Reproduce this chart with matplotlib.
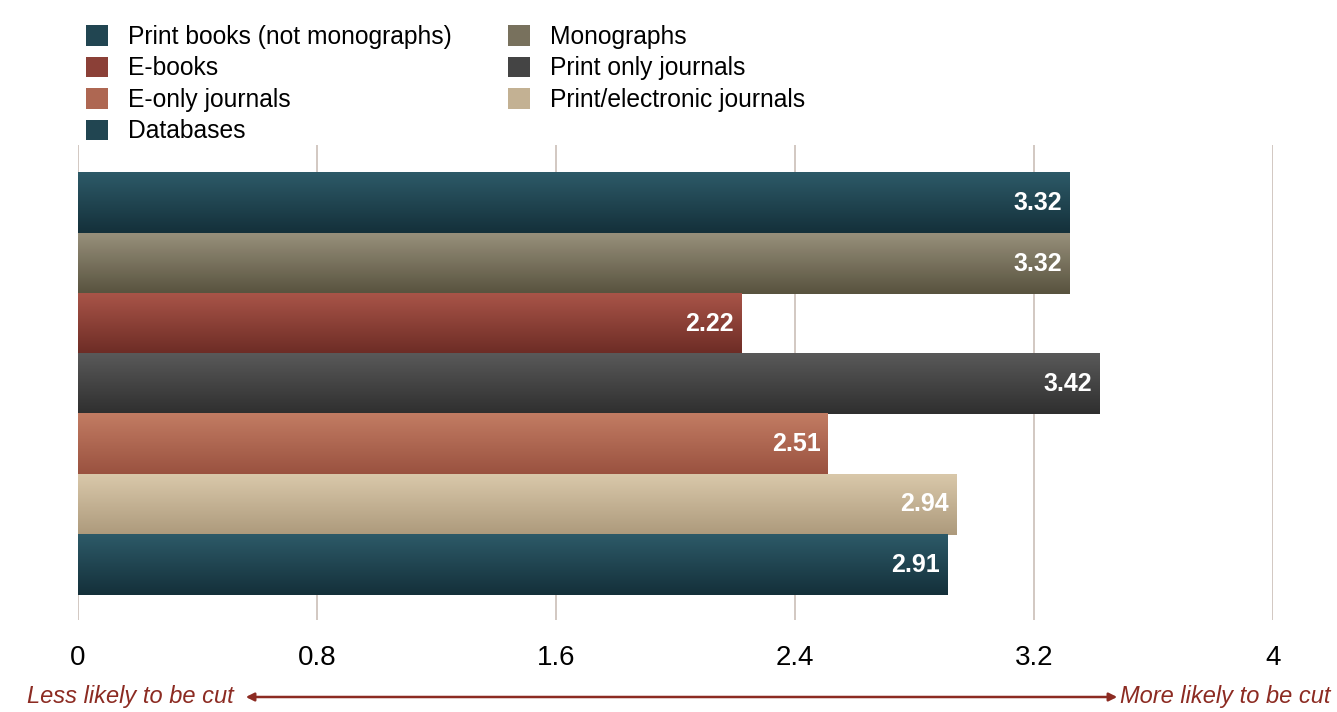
import numpy as np
import matplotlib.pyplot as plt
from matplotlib.colors import LinearSegmentedColormap, to_rgb
from matplotlib.patches import Patch, FancyArrowPatch

plt.rcParams['font.family'] = ['Liberation Sans', 'DejaVu Sans']

# bars top to bottom
categories = ["Print books (not monographs)", "Monographs", "E-books",
              "Print only journals", "E-only journals",
              "Print/electronic journals", "Databases"]
values = [3.32, 3.32, 2.22, 3.42, 2.51, 2.94, 2.91]
# (top colour, bottom colour) of the vertical gradient
colors = [("#2d5a68", "#14303a"), ("#978f7a", "#58533f"), ("#a95448", "#6c2c25"),
          ("#595959", "#2f2f2f"), ("#c27c63", "#9a5240"), ("#d9c8aa", "#ad9a7c"),
          ("#2d5a68", "#14303a")]
legend_order = ["Print books (not monographs)", "E-books", "E-only journals", "Databases",
                "Monographs", "Print only journals", "Print/electronic journals"]
xticks = [0, 0.8, 1.6, 2.4, 3.2, 4]

fig = plt.figure(figsize=(13.37, 7.12), dpi=100)
ax = fig.add_axes([78 / 1337, 1 - 620 / 712, (1273 - 78) / 1337, (620 - 145) / 712])

n = len(values)
ypos = np.arange(n)[::-1]
bars = ax.barh(ypos, values, height=1.0, color="none", edgecolor="none", zorder=2)

grad = np.linspace(0, 1, 64).reshape(-1, 1)
for bar, (top, bot), v in zip(bars, colors, values):
    cmap = LinearSegmentedColormap.from_list("g", [top, bot])
    x0, y0, w, h = bar.get_x(), bar.get_y(), bar.get_width(), bar.get_height()
    ax.imshow(grad, extent=[x0, x0 + w, y0, y0 + h], origin="upper", cmap=cmap,
              aspect="auto", zorder=2, interpolation="bicubic")
    ax.text(x0 + w - 0.025, y0 + h / 2, f"{v:.2f}", color="white", fontsize=18,
            fontweight="bold", ha="right", va="center", zorder=3)

ax.set_xlim(0, 4)
ax.set_ylim(-0.92, n - 0.5 + 0.47)
ax.set_xticks(xticks)
ax.set_xticklabels([f"{t:g}" for t in xticks], fontsize=20)
ax.set_yticks([])
ax.tick_params(axis="x", length=0, pad=18)
ax.grid(axis="x", color="#cbbfb8", linewidth=1.2, zorder=0)
for s in ax.spines.values():
    s.set_visible(False)

handles = []
for name in legend_order:
    top, bot = colors[categories.index(name)]
    mid = tuple((a + b) / 2 for a, b in zip(to_rgb(top), to_rgb(bot)))
    handles.append(Patch(facecolor=mid, edgecolor="none", label=name))
fig.legend(handles=handles, ncol=2, loc="upper left",
           bbox_to_anchor=(64 / 1337, 1 - 3 / 712), frameon=False, fontsize=17.7,
           handlelength=0.9, handleheight=0.9, handletextpad=0.8,
           labelspacing=0.3, columnspacing=2.3)

red = "#8c2b22"
yarr = 1 - 697 / 712
fig.text(234 / 1337, yarr, "Less likely to be cut", color=red, fontsize=17,
         style="italic", ha="right", va="center")
fig.text(1120 / 1337, yarr, "More likely to be cut", color=red, fontsize=17,
         style="italic", ha="left", va="center")
fig.add_artist(FancyArrowPatch(
    (243 / 1337, yarr), (1120 / 1337, yarr), transform=fig.transFigure,
    arrowstyle="<|-|>", mutation_scale=12, color=red, linewidth=1.8))

fig.savefig("out.png", dpi=100)
